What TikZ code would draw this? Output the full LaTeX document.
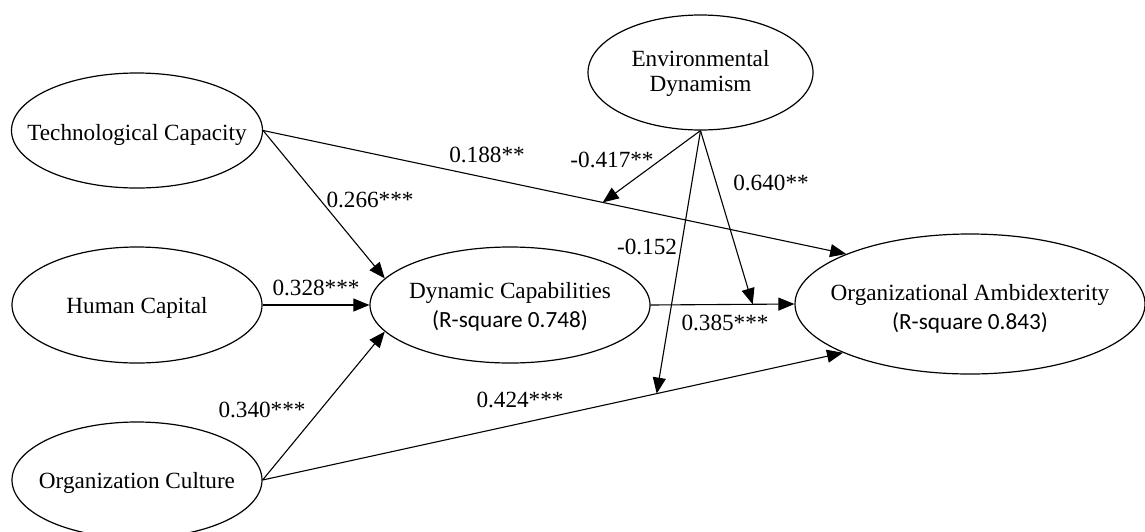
\documentclass[tikz,border=0pt]{standalone}
\usepackage{fontspec}
\setmainfont{Liberation Serif}
\newfontfamily\rsqfont{Carlito}
\usetikzlibrary{shapes.geometric,arrows.meta}
\newcommand\lattext[2][-1.5pt]{\makebox[0pt]{\raisebox{#1}[\height][\depth]{\begin{tabular}{@{}c@{}}#2\end{tabular}}}}
\begin{document}
\begin{tikzpicture}[x=0.5pt,y=-0.5pt,
  lat/.style={ellipse, draw, line width=0.6pt, inner sep=0pt,
    font=\fontsize{11.6}{12.5}\selectfont},
  pth/.style={line width=0.55pt, -{Triangle[length=8pt,width=6.5pt]}},
  lab/.style={font=\fontsize{11.6}{13}\selectfont, inner sep=0pt}]
\useasboundingbox (0,0) rectangle (1145,531);
% latent variables
\node[lat, minimum width=125.5pt, minimum height=57.5pt] (TC) at (137,130.5) {\lattext[-2.5pt]{Technological Capacity}};
\node[lat, minimum width=125pt, minimum height=58pt] (HC) at (137,305) {\lattext[-1.5pt]{Human Capital}};
\node[lat, minimum width=125pt, minimum height=58pt] (OC) at (137,480) {\lattext[-1.5pt]{Organization Culture}};
\node[lat, minimum width=140pt, minimum height=58pt] (DC) at (510,305) {\lattext[-1.5pt]{Dynamic Capabilities\\[1.8pt]{\rsqfont (R-square 0.748)}}};
\node[lat, minimum width=175pt, minimum height=70pt] (OA) at (970,304) {\lattext[-3pt]{Organizational Ambidexterity\\[1.8pt]{\rsqfont (R-square 0.843)}}};
\node[lat, minimum width=112.5pt, minimum height=57.5pt] (ED) at (700.5,72.5) {\lattext[-0.5pt]{Environmental\\Dynamism}};
% paths
\draw[pth] (TC.east) -- coordinate[pos=0.5825] (m1) (OA.158);
\draw[pth] (TC.east) -- (DC.168);
\draw[pth] (HC.east) -- (DC.west);
\draw[pth] (OC.east) -- (DC.192);
\draw[pth] (OC.east) -- coordinate[pos=0.679] (m3) (OA.201);
\draw[pth] (DC.east) -- coordinate[pos=0.71] (m2) (OA.west);
\draw[pth] (ED.south) -- (m1);
\draw[pth] (ED.south) -- (m2);
\draw[pth] (ED.south) -- (m3);
% labels
\node[lab] (l1) at (487,155) {0.188**};
\node[lab] (l2) at (612,160) {-0.417**};
\node[lab] (l3) at (771,183) {0.640**};
\node[lab] (l4) at (370,200) {0.266***};
\node[lab] (l5) at (647,247) {-0.152};
\node[lab] (l6) at (316,288) {0.328***};
\node[lab] (l7) at (725,323) {0.385***};
\node[lab] (l8) at (262,410) {0.340***};
\node[lab] (l9) at (520,400) {0.424***};
\end{tikzpicture}
\end{document}
